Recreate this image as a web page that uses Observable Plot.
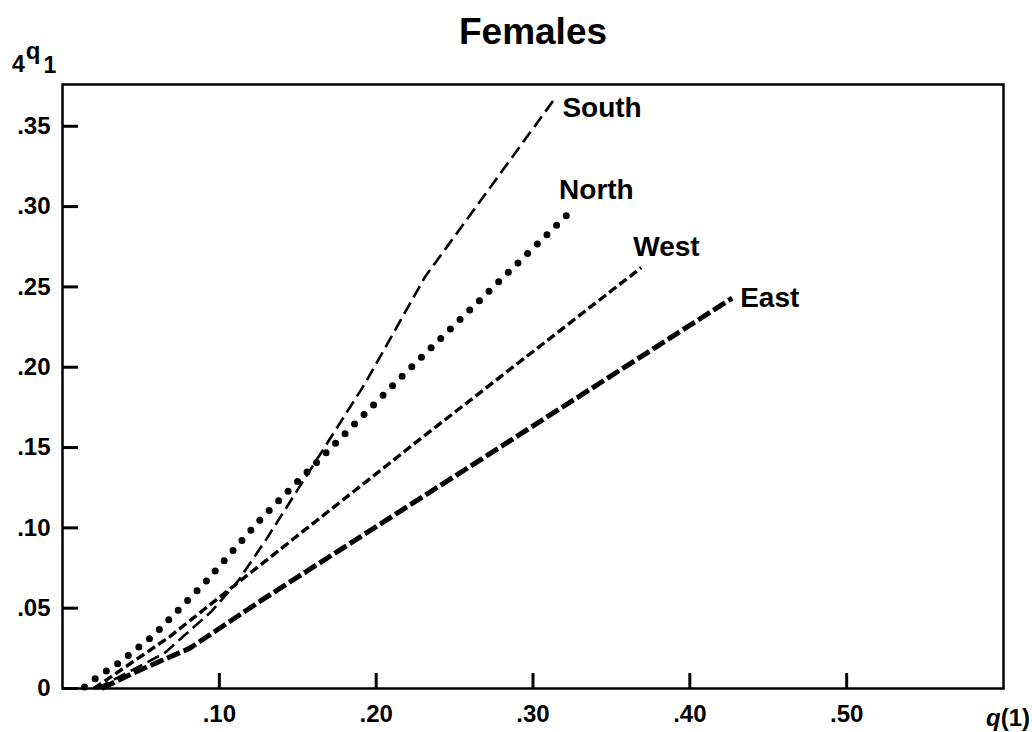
<!DOCTYPE html>
<html><head><meta charset="utf-8">
<script src="https://cdn.jsdelivr.net/npm/d3@7"></script>
<script src="https://cdn.jsdelivr.net/npm/@observablehq/plot@0.6"></script>
<style>
body{margin:0;background:#fff}
svg{font-family:"Liberation Sans",Arial,Helvetica,sans-serif;font-weight:bold}
</style>
</head><body><div id="chart"></div>
<script>
// tick values and labels
const xTicks = [0.1, 0.2, 0.3, 0.4, 0.5];
const xTickLabels = [".10", ".20", ".30", ".40", ".50"];
const yTicks = [0, 0.05, 0.1, 0.15, 0.2, 0.25, 0.3, 0.35];
const yTickLabels = ["0", ".05", ".10", ".15", ".20", ".25", ".30", ".35"];

// series: q(1) and 4q1
const southQ = [0.022, 0.065, 0.095, 0.112, 0.130, 0.193, 0.231, 0.313];
const southV = [0.000, 0.022, 0.048, 0.067, 0.093, 0.190, 0.256, 0.366];
const northQ = [0.014, 0.022, 0.036, 0.058, 0.090, 0.126, 0.144, 0.214, 0.323];
const northV = [0.001, 0.007, 0.016, 0.033, 0.065, 0.105, 0.123, 0.192, 0.296];
const westQ = [0.020, 0.068, 0.112, 0.229, 0.369];
const westV = [0.000, 0.032, 0.066, 0.156, 0.262];
const eastQ = [0.025, 0.046, 0.081, 0.127, 0.427];
const eastV = [0.000, 0.010, 0.025, 0.055, 0.243];

const rows = (q, v) => q.map((d, i) => ({q: d, v: v[i]}));
const south = rows(southQ, southV);
const north = rows(northQ, northV);
const west = rows(westQ, westV);
const east = rows(eastQ, eastV);

const FONT = '"Liberation Sans",Arial,Helvetica,sans-serif';
const W = 1032, H = 732, ML = 62, MR = 29, MT = 84, MB = 44;
const xDomain = [0, 0.6], yDomain = [0, 0.376];

const plot = Plot.plot({
  width: W,
  height: H,
  marginLeft: ML,
  marginRight: MR,
  marginTop: MT,
  marginBottom: MB,
  style: {fontFamily: FONT, fontWeight: "bold", fontSize: "24px", background: "#fff", color: "#000", overflow: "visible"},
  x: {domain: xDomain},
  y: {domain: yDomain},
  marks: [
    Plot.axisX(xTicks, {tickSize: 0, tickPadding: 16, fontSize: 24, fontWeight: "bold",
      tickFormat: d => xTickLabels[xTicks.indexOf(d)], label: null}),
    Plot.axisY(yTicks, {tickSize: 0, tickPadding: 12, fontSize: 24, fontWeight: "bold",
      tickFormat: d => yTickLabels[yTicks.indexOf(d)], label: null}),
    Plot.frame({stroke: "#000", strokeWidth: 2.5}),
    Plot.line(south, {x: "q", y: "v", stroke: "#000", strokeWidth: 2.6, strokeDasharray: "13,6", strokeLinecap: "butt"}),
    Plot.line(north, {x: "q", y: "v", stroke: "#000", strokeWidth: 7, strokeDasharray: "0,13.5", strokeLinecap: "round"}),
    Plot.line(west, {x: "q", y: "v", stroke: "#000", strokeWidth: 3.4, strokeDasharray: "9,4", strokeLinecap: "butt"}),
    Plot.line(east, {x: "q", y: "v", stroke: "#000", strokeWidth: 5, strokeDasharray: "14,4", strokeLinecap: "butt"}),
    // inward tick marks: ordinary axis ticks shifted back inside the frame
    Plot.axisX(xTicks, {tickSize: 15, dy: -15, stroke: "#000", strokeWidth: 3, tickFormat: () => "", label: null}),
    Plot.axisY(yTicks, {tickSize: 16, dx: 16, stroke: "#000", strokeWidth: 3, tickFormat: () => "", label: null}),
    Plot.text([south[south.length - 1]], {x: "q", y: "v", text: () => "South", textAnchor: "start", dx: 9, dy: 7, fontSize: 28, fontWeight: "bold"}),
    Plot.text([north[north.length - 1]], {x: "q", y: "v", text: () => "North", textAnchor: "start", dx: -10, dy: -23, fontSize: 28, fontWeight: "bold"}),
    Plot.text([west[west.length - 1]], {x: "q", y: "v", text: () => "West", textAnchor: "start", dx: -8, dy: -21, fontSize: 28, fontWeight: "bold"}),
    Plot.text([east[east.length - 1]], {x: "q", y: "v", text: () => "East", textAnchor: "start", dx: 8, dy: 0, fontSize: 28, fontWeight: "bold"}),
    Plot.text(["Females"], {frameAnchor: "top", text: d => d, dy: -67, fontSize: 37, fontWeight: "bold"})
  ]
});

const svg = d3.select(plot);
// y-axis label  4 q 1
const yl = svg.append("text").attr("x", 12).attr("y", 72).attr("text-anchor", "start")
  .attr("font-family", FONT).attr("font-weight", "bold").attr("font-size", 23);
yl.append("tspan").text("4");
yl.append("tspan").attr("dx", 1).attr("dy", -13).attr("font-size", 24).text("q");
yl.append("tspan").attr("dx", 3).attr("dy", 14).text("1");
// x-axis label q(1)
const xl = svg.append("text").attr("x", 1030).attr("y", 726).attr("text-anchor", "end")
  .attr("font-family", FONT).attr("font-weight", "bold").attr("font-size", 24);
xl.append("tspan").attr("font-style", "italic").text("q");
xl.append("tspan").text("(1)");

document.getElementById("chart").appendChild(plot);
</script>
</body></html>
